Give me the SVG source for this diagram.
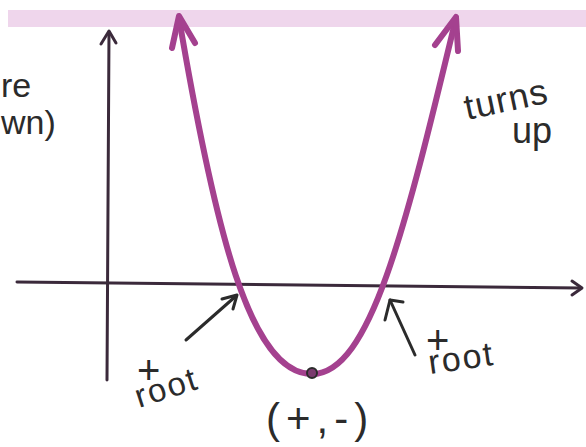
<svg xmlns="http://www.w3.org/2000/svg" width="586" height="447" viewBox="0 0 586 447">
<style>
.axis{fill:none;stroke:#3b2a3b;stroke-width:3;stroke-linecap:round;stroke-linejoin:round}
.curve{fill:none;stroke:#a4418f;stroke-width:6;stroke-linecap:round;stroke-linejoin:round}
.ann{fill:none;stroke:#2b2b2b;stroke-width:3;stroke-linecap:round;stroke-linejoin:round}
.t{font-family:"Liberation Sans","DejaVu Sans",sans-serif;fill:#2b2b2b}
</style>
<rect width="586" height="447" fill="#ffffff"/>
<rect id="band" x="8" y="10" width="578" height="17" fill="#efd6ec"/>
<g id="axes">
<path class="axis" d="M107,380 L109,32"/>
<path class="axis" d="M101,44 L109,31 L116,43"/>
<path class="axis" d="M17,282 L581,288"/>
<path class="axis" d="M572,281 L582,288 L572,295"/>
</g>
<g id="parabola">
<path class="curve" d="M179,18 C215,230 250,374 312,374 C370,374 405,230 456,18"/>
<path class="curve" d="M172,48 L179,16 L195,43"/>
<path class="curve" d="M435,45 L456,17 L458,51"/>
<circle cx="312" cy="373" r="5" fill="#7a3a6e" stroke="#2b2b2b" stroke-width="2"/>
</g>
<g id="connectors">
<path class="ann" d="M186,340 L236,296"/>
<path class="ann" d="M222,299 L237,295 L233,309"/>
<path class="ann" d="M415,355 L390,300"/>
<path class="ann" d="M385,320 L390,300 L403,302"/>
</g>
<g id="label-left">
<text class="t" x="1" y="97" font-size="34">re</text>
<text class="t" x="1" y="134" font-size="34">wn)</text>
</g>
<g id="label-turns">
<text class="t" x="467" y="120" font-size="36" letter-spacing="1" transform="rotate(-12 467 120)">turns</text>
<text class="t" x="512" y="143" font-size="36">up</text>
</g>
<g id="root-left">
<text class="t" x="137" y="384" font-size="40">+</text>
<text class="t" x="139" y="408" font-size="33" letter-spacing="2" transform="rotate(-18 139 408)">root</text>
</g>
<g id="root-right">
<text class="t" x="426" y="354" font-size="40">+</text>
<text class="t" x="430" y="374" font-size="34" letter-spacing="2" transform="rotate(-8 430 374)">root</text>
</g>
<g id="vertex-label">
<text class="t" x="266" y="433" font-size="42" letter-spacing="6">(+,-)</text>
</g>
</svg>
